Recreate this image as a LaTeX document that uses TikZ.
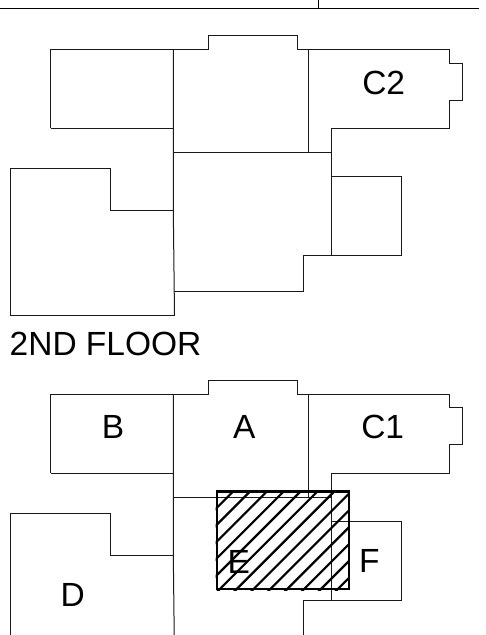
\documentclass[tikz,border=0pt]{standalone}
\usepackage{fontspec}
\setmainfont{Liberation Sans}
\tikzset{
  wall/.style={draw=black!90,line width=1pt,line join=miter},
  hatchline/.style={draw=black,line width=2.2pt},
  hatchbox/.style={draw=black,line width=2.4pt},
  lab/.style={anchor=base,inner sep=0pt,font=\fontsize{33.5}{36}\selectfont,text=black}
}
\newcommand{\floorplan}{%
  \draw[wall] (50.7,128.3) -- (50.7,49.7) -- (208.7,49.7) -- (208.7,35.5) -- (297.5,35.5) -- (297.5,49.7)
    -- (449.5,49.7) -- (449.5,63) -- (462.5,63) -- (462.5,100) -- (449.5,100) -- (449.5,128.3)
    -- (331,128.3) -- (331,255.3);
  \draw[wall] (50.7,128.3) -- (173.3,128.3);
  \draw[wall] (173.3,49.7) -- (173.3,210.7) -- (174.5,315);
  \draw[wall] (308.5,49.7) -- (308.5,152.3);
  \draw[wall] (173.3,152.3) -- (331,152.3);
  \draw[wall] (331,176.3) -- (401.5,176.3) -- (401.5,255.3) -- (303.5,255.3) -- (303.5,291.5) -- (174.3,291.5);
  \draw[wall] (173.3,210.7) -- (110,210.7) -- (110,168.7) -- (10.3,168.7) -- (10.3,315) -- (174.5,315);
}
\begin{document}
\begin{tikzpicture}[x=1pt,y=-1pt]
\useasboundingbox (0,0) rectangle (485,635);
\clip (0,0) rectangle (485,635);
% title block remnant
\draw[line width=1.2pt] (0,8.3) -- (478.5,8.3);
\draw[line width=1.2pt] (318.5,0) -- (318.5,8.3);
% upper plan
\floorplan
\node[lab] (c2) at (383.7,94.3) {C2};
% heading
\node[lab,anchor=base west] (floor) at (9.5,355.7) {2ND FLOOR};
% lower plan
\begin{scope}[yshift=-344.7pt]
\floorplan
\end{scope}
\node[lab] (b) at (113,438.3) {B};
\node[lab] (a) at (244.3,438.3) {A};
\node[lab] (c1) at (382.7,438.3) {C1};
\node[lab] (d) at (72.7,606.7) {D};
\node[lab] (e) at (238.7,573.3) {E};
\node[lab] (f) at (369.3,572.7) {F};
% hatched area
\begin{scope}
\clip (215.7,491.3) rectangle (348.7,590.2);
\foreach \k in {0,...,12}{
  \pgfmathsetmacro{\s}{724.6+16.85*\k}
  \draw[hatchline] ({\s-600},600) -- ({\s-480},480);
}
\end{scope}
\draw[hatchbox] (216.7,491.3) rectangle (348.7,588.7);
\end{tikzpicture}
\end{document}
